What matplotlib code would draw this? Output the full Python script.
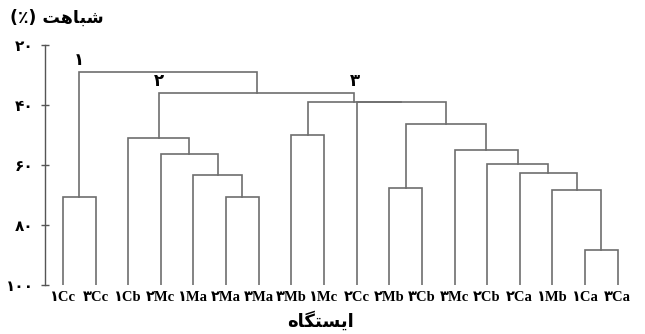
import matplotlib
matplotlib.use("Agg")
import matplotlib.pyplot as plt

# ---- data --------------------------------------------------------------------------------------
LEAVES = ["1Cc", "3Cc", "1Cb", "2Mc", "1Ma", "2Ma", "3Ma", "3Mb", "1Mc",
          "2Cc", "2Mb", "3Cb", "3Mc", "2Cb", "2Ca", "1Mb", "1Ca", "3Ca"]
# linkage-style merges: (left node, right node, similarity %) ; new nodes numbered from len(LEAVES)
MERGE_LEFT = [0, 5, 4, 3, 2, 7, 16, 15, 14, 13, 12, 10, 29, 9, 23, 22, 18]
MERGE_RIGHT = [1, 6, 19, 20, 21, 8, 17, 24, 25, 26, 27, 11, 28, 30, 31, 32, 33]
MERGE_HEIGHT = [70.7, 70.6, 63.2, 56.4, 50.9, 50.0, 88.3, 68.4, 62.6, 59.7, 55.0, 67.8,
                46.4, 39.0, 39.0, 36.1, 28.9]
Y_TICKS = [20, 40, 60, 80, 100]
TAGS = ["1", "2", "3"]
Y_TITLE = "شباهت (٪)"
X_TITLE = "ایستگاه"

LINE = "#6e6e6e"
FA_DIGITS = str.maketrans("0123456789", "۰۱۲۳۴۵۶۷۸۹")

# minimal Arabic-script shaping (presentation forms) + visual reordering for matplotlib
FORMS = {
    "ا": ("\uFE8D", "\uFE8E", None, None),
    "ب": ("\uFE8F", "\uFE90", "\uFE91", "\uFE92"),
    "ت": ("\uFE95", "\uFE96", "\uFE97", "\uFE98"),
    "س": ("\uFEB1", "\uFEB2", "\uFEB3", "\uFEB4"),
    "ش": ("\uFEB5", "\uFEB6", "\uFEB7", "\uFEB8"),
    "ه": ("\uFEE9", "\uFEEA", "\uFEEB", "\uFEEC"),
    "ی": ("\uFBFC", "\uFBFD", "\uFBFE", "\uFBFF"),
    "گ": ("\uFB92", "\uFB93", "\uFB94", "\uFB95"),
}


def rtl(text):
    out = []
    for i, ch in enumerate(text):
        if ch not in FORMS:
            out.append(ch)
            continue
        prev = text[i - 1] if i > 0 else ""
        nxt = text[i + 1] if i + 1 < len(text) else ""
        jp = prev in FORMS and FORMS[prev][2] is not None
        jn = nxt in FORMS and FORMS[ch][2] is not None
        iso, fin, ini, med = FORMS[ch]
        out.append(med if jp and jn else fin if jp else ini if jn else iso)
    s = "".join(reversed(out))
    return s.translate(str.maketrans("()", ")("))


# ---- layout of the tree --------------------------------------------------------------------------
n = len(LEAVES)
xpos = {i: float(i) for i in range(n)}
hgt = {i: 100.0 for i in range(n)}
children = {}
for k, (a, b, h) in enumerate(zip(MERGE_LEFT, MERGE_RIGHT, MERGE_HEIGHT)):
    node = n + k
    xpos[node] = (xpos[a] + xpos[b]) / 2
    hgt[node] = h
    children[node] = (a, b)

fig = plt.figure(figsize=(6.45, 3.34), dpi=100)
ax = fig.add_axes([45 / 645, 49 / 334, 589 / 645, 240 / 334])

for node, (a, b) in children.items():
    h = hgt[node]
    ax.plot([xpos[a], xpos[a], xpos[b], xpos[b]], [hgt[a], h, h, hgt[b]],
            color=LINE, lw=1.2, solid_joinstyle="miter")

# cluster tags 1,2,3
top = n + len(MERGE_HEIGHT) - 1
c2 = children[top][1]
c3 = children[c2][1]
tag_at = [(xpos[children[top][0]], hgt[top]), (xpos[children[c2][0]], hgt[c2]), (xpos[c3], hgt[c2])]
fa_bold = dict(family=["DejaVu Sans"], fontweight="bold")
for t, (x, h) in zip(TAGS, tag_at):
    ax.text(x, h - 1.0, t.translate(FA_DIGITS), ha="center", va="bottom", fontsize=12, **fa_bold)

ax.set_xlim(-0.55, n - 0.5)
ax.set_ylim(100, 20)
for s in ["top", "right", "bottom"]:
    ax.spines[s].set_visible(False)
ax.spines["left"].set_color("#555555")
ax.spines["left"].set_linewidth(1.0)

ax.set_yticks(Y_TICKS)
ax.set_yticklabels([str(v).translate(FA_DIGITS) for v in Y_TICKS], fontsize=11, **fa_bold)
ax.tick_params(axis="y", direction="inout", length=6, width=1, color="#555555", pad=5)

ax.set_xticks(range(n))
ax.set_xticklabels([lb.translate(FA_DIGITS) for lb in LEAVES], fontsize=10.5, fontweight="bold",
                   family=["Liberation Serif", "DejaVu Sans"])
ax.tick_params(axis="x", length=0, pad=4)

fig.text(10 / 645, 1 - 18 / 334, rtl(Y_TITLE), ha="left", va="center", fontsize=12.5, **fa_bold)
fig.text(320 / 645, 1 - 321 / 334, rtl(X_TITLE), ha="center", va="center", fontsize=13, **fa_bold)

fig.savefig("out.png", dpi=100)
